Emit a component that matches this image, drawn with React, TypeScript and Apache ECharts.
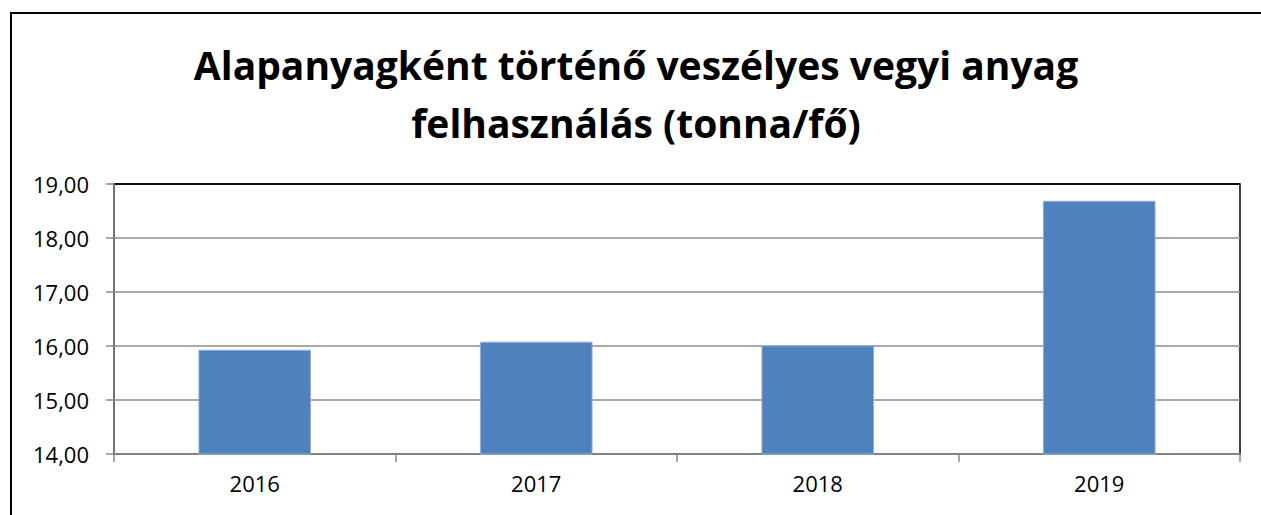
import React, { useEffect, useRef } from "react";
import * as echarts from "echarts";

const titleText = "Alapanyagként történő veszélyes vegyi anyag\nfelhasználás (tonna/fő)";
const categories = ["2016", "2017", "2018", "2019"];
const values = [15.93, 16.08, 16.01, 18.69];
const yMin = 14;
const yMax = 19;
const yInterval = 1;

export default function App() {
  const ref = useRef<HTMLDivElement>(null);
  useEffect(() => {
    document.body.style.margin = "0";
    const chart = echarts.init(ref.current!, null, { renderer: "svg" });
    const font = "'Open Sans', Lato, sans-serif";
    chart.setOption({
      animation: false,
      backgroundColor: "#ffffff",
      title: {
        text: titleText,
        left: 631,
        top: 30,
        textAlign: "center",
        textStyle: {
          fontFamily: font,
          fontWeight: "bold",
          fontSize: 39,
          lineHeight: 58,
          color: "#000000",
        },
      },
      graphic: [
        {
          type: "rect",
          shape: { x: 11, y: 13, width: 1400, height: 700 },
          style: { fill: "none", stroke: "#000000", lineWidth: 2 },
          z: 100,
        },
      ],
      grid: {
        left: 114,
        right: 21,
        top: 184,
        bottom: 61,
        show: true,
        borderColor: "#000000",
        borderWidth: 1.5,
        containLabel: false,
      },
      xAxis: {
        type: "category",
        data: categories,
        boundaryGap: true,
        axisLine: { show: true, lineStyle: { color: "#868686", width: 1.5 } },
        axisTick: { show: true, length: 8, alignWithLabel: false, lineStyle: { color: "#868686", width: 1.5 } },
        axisLabel: { fontFamily: font, fontSize: 22, color: "#000000", margin: 18 },
        splitLine: { show: false },
      },
      yAxis: {
        type: "value",
        min: yMin,
        max: yMax,
        interval: yInterval,
        axisLine: { show: true, lineStyle: { color: "#868686", width: 1.5 } },
        axisTick: { show: true, length: 8, lineStyle: { color: "#868686", width: 1.5 } },
        axisLabel: {
          fontFamily: font,
          fontSize: 22,
          color: "#000000",
          margin: 25,
          formatter: (v: number) => v.toFixed(2).replace(".", ","),
        },
        splitLine: {
          show: true,
          lineStyle: {
            color: ["#8c8c8c", "#8c8c8c", "#8c8c8c", "#8c8c8c", "#8c8c8c", "#000000"],
            width: 1.5,
          },
        },
      },
      series: [
        {
          type: "bar",
          data: values,
          barWidth: "40%",
          itemStyle: { color: "#4F81BD", borderColor: "#8fb0da", borderWidth: 1 },
        },
      ],
    });
    return () => chart.dispose();
  }, []);
  return <div ref={ref} style={{ width: 1261, height: 515 }} />;
}
